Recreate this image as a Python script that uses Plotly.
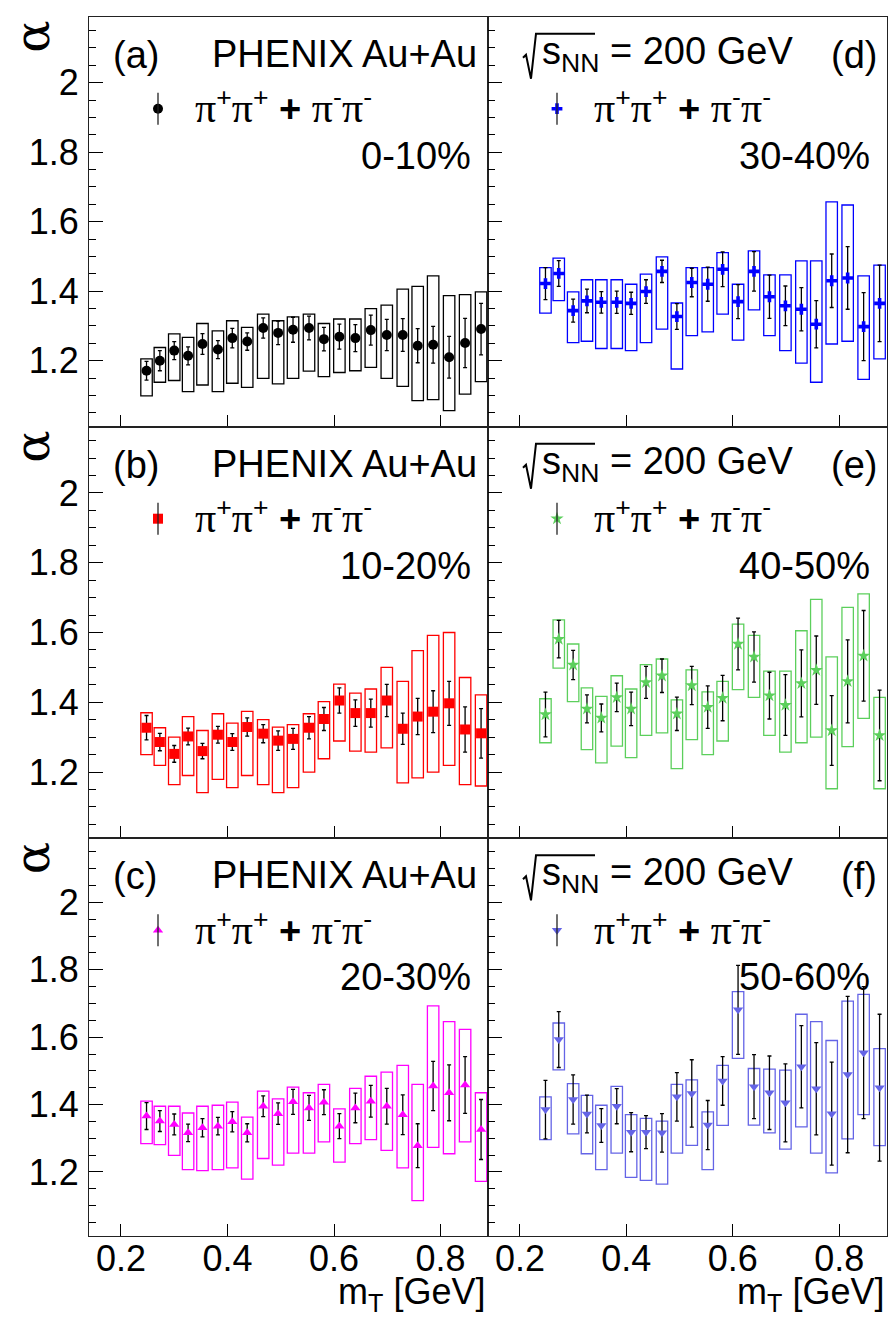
import numpy as np
import plotly.graph_objects as go

# ---------------- data ----------------
mt = [0.248, 0.273, 0.300, 0.326, 0.353, 0.382, 0.409, 0.437, 0.467, 0.495, 0.523, 0.553,
      0.581, 0.610, 0.640, 0.669, 0.699, 0.729, 0.757, 0.786, 0.816, 0.846, 0.876]

# 0-10%
alpha_a = [1.171, 1.200, 1.229, 1.214, 1.248, 1.232, 1.265, 1.255, 1.294, 1.280, 1.289, 1.294,
           1.262, 1.269, 1.265, 1.288, 1.274, 1.274, 1.243, 1.246, 1.210, 1.251, 1.291]
stat_a = [0.027, 0.029, 0.026, 0.026, 0.030, 0.026, 0.028, 0.025, 0.029, 0.034, 0.036, 0.034,
          0.034, 0.036, 0.039, 0.043, 0.045, 0.047, 0.049, 0.053, 0.060, 0.071, 0.074]
sys_hi_a = [1.205, 1.238, 1.277, 1.267, 1.307, 1.286, 1.315, 1.296, 1.334, 1.315, 1.326, 1.334,
            1.307, 1.320, 1.320, 1.350, 1.360, 1.406, 1.414, 1.444, 1.387, 1.390, 1.398]
sys_lo_a = [1.099, 1.138, 1.143, 1.111, 1.130, 1.111, 1.135, 1.123, 1.149, 1.133, 1.149, 1.170,
            1.154, 1.166, 1.171, 1.181, 1.149, 1.126, 1.085, 1.088, 1.056, 1.104, 1.140]

# 10-20%
alpha_b = [1.327, 1.286, 1.252, 1.302, 1.260, 1.307, 1.286, 1.329, 1.310, 1.290, 1.295, 1.327,
           1.352, 1.405, 1.369, 1.369, 1.405, 1.324, 1.359, 1.373, 1.397, 1.322, 1.311]
stat_b = [0.035, 0.025, 0.024, 0.024, 0.022, 0.024, 0.024, 0.026, 0.026, 0.028, 0.030, 0.032,
          0.033, 0.036, 0.038, 0.040, 0.046, 0.045, 0.052, 0.060, 0.063, 0.065, 0.071]
sys_hi_b = [1.370, 1.327, 1.300, 1.359, 1.319, 1.367, 1.340, 1.374, 1.350, 1.329, 1.336, 1.367,
            1.402, 1.452, 1.426, 1.438, 1.500, 1.460, 1.548, 1.592, 1.600, 1.471, 1.421]
sys_lo_b = [1.250, 1.219, 1.164, 1.190, 1.141, 1.179, 1.155, 1.190, 1.164, 1.141, 1.155, 1.200,
            1.238, 1.289, 1.260, 1.257, 1.269, 1.169, 1.183, 1.200, 1.219, 1.164, 1.160]

# 20-30%
alpha_c = [1.366, 1.351, 1.341, 1.316, 1.331, 1.336, 1.349, 1.316, 1.395, 1.373, 1.408, 1.390,
           1.407, 1.336, 1.390, 1.410, 1.395, 1.370, 1.278, 1.455, 1.435, 1.458, 1.326]
stat_c = [0.040, 0.031, 0.031, 0.026, 0.027, 0.026, 0.030, 0.027, 0.031, 0.032, 0.037, 0.037,
          0.037, 0.037, 0.044, 0.047, 0.053, 0.059, 0.065, 0.073, 0.083, 0.084, 0.089]
sys_hi_c = [1.410, 1.395, 1.395, 1.375, 1.395, 1.398, 1.407, 1.363, 1.440, 1.417, 1.452, 1.435,
            1.460, 1.387, 1.448, 1.484, 1.496, 1.516, 1.460, 1.693, 1.646, 1.623, 1.435]
sys_lo_c = [1.284, 1.281, 1.249, 1.207, 1.204, 1.207, 1.212, 1.179, 1.240, 1.220, 1.256, 1.256,
            1.289, 1.229, 1.284, 1.296, 1.264, 1.212, 1.115, 1.273, 1.254, 1.289, 1.172]

# 30-40%
alpha_d = [1.422, 1.451, 1.344, 1.372, 1.368, 1.368, 1.365, 1.399, 1.457, 1.327, 1.425, 1.420,
           1.463, 1.370, 1.457, 1.384, 1.358, 1.348, 1.305, 1.430, 1.438, 1.298, 1.365]
stat_d = [0.046, 0.037, 0.033, 0.034, 0.031, 0.032, 0.032, 0.034, 0.032, 0.037, 0.041, 0.049,
          0.050, 0.049, 0.057, 0.062, 0.057, 0.062, 0.068, 0.077, 0.090, 0.098, 0.110]
sys_hi_d = [1.468, 1.495, 1.398, 1.433, 1.433, 1.433, 1.420, 1.449, 1.499, 1.366, 1.468, 1.468,
            1.511, 1.420, 1.516, 1.447, 1.447, 1.487, 1.487, 1.657, 1.648, 1.444, 1.475]
sys_lo_d = [1.337, 1.373, 1.252, 1.256, 1.235, 1.235, 1.229, 1.252, 1.291, 1.176, 1.272, 1.283,
            1.334, 1.259, 1.346, 1.272, 1.229, 1.193, 1.138, 1.248, 1.256, 1.146, 1.205]

# 40-50%
alpha_e = [1.365, 1.581, 1.507, 1.381, 1.355, 1.414, 1.381, 1.457, 1.476, 1.367, 1.448, 1.386,
           1.412, 1.567, 1.530, 1.419, 1.392, 1.454, 1.492, 1.319, 1.460, 1.533, 1.305]
stat_e = [0.064, 0.054, 0.042, 0.040, 0.040, 0.041, 0.048, 0.046, 0.048, 0.048, 0.055, 0.061,
          0.065, 0.074, 0.072, 0.067, 0.087, 0.096, 0.098, 0.100, 0.119, 0.130, 0.130]
sys_hi_e = [1.410, 1.636, 1.567, 1.441, 1.417, 1.476, 1.438, 1.508, 1.524, 1.407, 1.493, 1.430,
            1.460, 1.624, 1.592, 1.489, 1.489, 1.605, 1.695, 1.530, 1.672, 1.711, 1.414]
sys_lo_e = [1.284, 1.498, 1.402, 1.264, 1.226, 1.274, 1.241, 1.305, 1.312, 1.210, 1.293, 1.250,
            1.289, 1.436, 1.414, 1.305, 1.257, 1.284, 1.300, 1.152, 1.273, 1.354, 1.152]

# 50-60%
alpha_f = [1.385, 1.593, 1.415, 1.372, 1.338, 1.395, 1.318, 1.318, 1.316, 1.423, 1.433, 1.339,
           1.470, 1.681, 1.453, 1.435, 1.405, 1.512, 1.447, 1.373, 1.489, 1.554, 1.450]
stat_f = [0.087, 0.083, 0.073, 0.056, 0.050, 0.052, 0.058, 0.049, 0.057, 0.072, 0.100, 0.073,
          0.072, 0.132, 0.095, 0.109, 0.116, 0.122, 0.137, 0.153, 0.232, 0.196, 0.218]
sys_hi_f = [1.423, 1.642, 1.462, 1.427, 1.398, 1.454, 1.370, 1.359, 1.351, 1.460, 1.473, 1.378,
            1.516, 1.735, 1.507, 1.505, 1.502, 1.668, 1.646, 1.590, 1.707, 1.727, 1.566]
sys_lo_f = [1.296, 1.503, 1.313, 1.254, 1.207, 1.256, 1.184, 1.175, 1.164, 1.256, 1.279, 1.207,
            1.338, 1.537, 1.339, 1.316, 1.268, 1.334, 1.256, 1.197, 1.298, 1.370, 1.278]

x_ticks = [0.2, 0.4, 0.6, 0.8]
x_ticktext = ["0.2", "0.4", "0.6", "0.8"]
y_ticks = [1.2, 1.4, 1.6, 1.8, 2.0]
y_ticktext = ["1.2", "1.4", "1.6", "1.8", "2"]

X_RANGE = [0.14, 0.889]
Y_RANGE = [1.01, 2.19]

# ---------------- layout geometry (pixels) ----------------
W, H = 891, 1317
COLS = [(89, 488), (488, 886.5)]
ROWS = [(16.7, 426.7), (426.7, 838.3), (838.3, 1236)]
SANS = "Liberation Sans, Arial, sans-serif"
SERIF = "Liberation Serif, Times New Roman, serif"
FS = 38       # panel texts
FS_TICK = 36  # tick labels
FRAME = "#222222"


def fx(p):
    return p / W


def fy(p):
    return 1 - p / H


# (label, centrality, alpha, stat, sys_hi, sys_lo, symbol, size, color, row, col)
panels = [
    ("(a)", "0-10%", alpha_a, stat_a, sys_hi_a, sys_lo_a, "circle", 10, "#000000", 0, 0),
    ("(d)", "30-40%", alpha_d, stat_d, sys_hi_d, sys_lo_d, "cross", 9, "#0000ff", 0, 1),
    ("(b)", "10-20%", alpha_b, stat_b, sys_hi_b, sys_lo_b, "square", 10, "#ff0000", 1, 0),
    ("(e)", "40-50%", alpha_e, stat_e, sys_hi_e, sys_lo_e, "star", 10, "#5ccf5c", 1, 1),
    ("(c)", "20-30%", alpha_c, stat_c, sys_hi_c, sys_lo_c, "triangle-up", 9, "#ff00ff", 2, 0),
    ("(f)", "50-60%", alpha_f, stat_f, sys_hi_f, sys_lo_f, "triangle-down", 9, "#6464e6", 2, 1),
]

fig = go.Figure()
annotations = []
shapes = []
layout_axes = {}

y_minor = [round(v, 2) for v in np.arange(1.05, 2.19, 0.05)
           if round(v, 2) not in [round(t, 2) for t in y_ticks]]

PI = "<span style='font-family:Liberation Serif;font-size:42px'>π</span>"
legend_text = f"{PI}<sup>+</sup>{PI}<sup>+</sup> <b>+</b> {PI}<sup>-</sup>{PI}<sup>-</sup>"

for k, (lab, cent, alpha, stat, shi, slo, sym, msize, color, r, c) in enumerate(panels, start=1):
    xn = "x" if k == 1 else f"x{k}"
    yn = "y" if k == 1 else f"y{k}"
    x0p, x1p = COLS[c]
    y0p, y1p = ROWS[r]
    ph = y1p - y0p
    pw = x1p - x0p

    # systematic boxes
    fig.add_trace(go.Bar(
        x=mt, y=[h - l for h, l in zip(shi, slo)], base=slo, width=0.0215,
        marker=dict(color="rgba(0,0,0,0)", line=dict(color=color, width=1.3)),
        xaxis=xn, yaxis=yn, showlegend=False, hoverinfo="skip"))
    # points with statistical errors
    fig.add_trace(go.Scatter(
        x=mt, y=alpha, mode="markers",
        marker=dict(symbol=sym, size=msize, color=color, line=dict(width=0)),
        error_y=dict(type="data", array=stat, color="black", thickness=1.3, width=2),
        xaxis=xn, yaxis=yn, showlegend=False))

    # legend key: marker with a vertical bar
    lx = X_RANGE[0] + 69 / pw * (X_RANGE[1] - X_RANGE[0])
    ly = Y_RANGE[1] - 92 / ph * (Y_RANGE[1] - Y_RANGE[0])
    shapes.append(dict(type="line", xref="paper", yref="paper",
                       x0=fx(x0p + 69), x1=fx(x0p + 69),
                       y0=fy(y0p + 92 - 16), y1=fy(y0p + 92 + 16),
                       line=dict(color="#222222", width=1.3)))
    fig.add_trace(go.Scatter(
        x=[lx], y=[ly], mode="markers",
        marker=dict(symbol=sym, size=msize, color=color, line=dict(width=0)),
        xaxis=xn, yaxis=yn, showlegend=False, hoverinfo="skip"))
    annotations.append(dict(text=legend_text, x=fx(x0p + 104), y=fy(y0p + 90),
                            xref="paper", yref="paper", xanchor="left", yanchor="middle",
                            showarrow=False, font=dict(family=SANS, size=FS, color="black")))

    # centrality label
    annotations.append(dict(text=cent, x=fx(x1p - 15), y=fy(y0p + 139),
                            xref="paper", yref="paper", xanchor="right", yanchor="middle",
                            showarrow=False, font=dict(family=SANS, size=FS, color="black")))

    if c == 0:
        annotations.append(dict(text=lab, x=fx(x0p + 22), y=fy(y0p + 38),
                                xref="paper", yref="paper", xanchor="left", yanchor="middle",
                                showarrow=False, font=dict(family=SANS, size=FS, color="black")))
        annotations.append(dict(text="PHENIX Au+Au", x=fx(x1p - 9), y=fy(y0p + 37),
                                xref="paper", yref="paper", xanchor="right", yanchor="middle",
                                showarrow=False, font=dict(family=SANS, size=FS, color="black")))
        # rotated axis title
        annotations.append(dict(text="α", x=fx(32), y=fy(y0p + 20),
                                xref="paper", yref="paper", xanchor="center", yanchor="middle",
                                textangle=-90, showarrow=False,
                                font=dict(family="DejaVu Serif", size=48, color="black")))
    else:
        annotations.append(dict(text=lab, x=fx(x1p - 8), y=fy(y0p + 38),
                                xref="paper", yref="paper", xanchor="right", yanchor="middle",
                                showarrow=False, font=dict(family=SANS, size=FS, color="black")))
        annotations.append(dict(text="s<sub>NN</sub> = 200 GeV", x=fx(x0p + 52), y=fy(y0p + 37),
                                xref="paper", yref="paper", xanchor="left", yanchor="middle",
                                showarrow=False, font=dict(family=SANS, size=FS, color="black")))
        # square-root sign with overbar
        rx = x0p + 35
        ry = y0p
        path = (f"M {fx(rx)},{fy(ry + 41)} L {fx(rx + 3)},{fy(ry + 38)} "
                f"L {fx(rx + 8)},{fy(ry + 62)} L {fx(rx + 13)},{fy(ry + 17)} "
                f"L {fx(rx + 72)},{fy(ry + 17)}")
        shapes.append(dict(type="path", xref="paper", yref="paper", path=path,
                           line=dict(color="black", width=2)))

    if r == 2:
        annotations.append(dict(text="m<sub>T</sub> [GeV]", x=fx(x1p - 1), y=fy(1294),
                                xref="paper", yref="paper", xanchor="right", yanchor="middle",
                                showarrow=False, font=dict(family=SANS, size=FS_TICK, color="black")))

    axis_font = dict(family=SANS, size=FS_TICK, color="black")
    layout_axes["xaxis" if k == 1 else f"xaxis{k}"] = dict(
        domain=[fx(x0p), fx(x1p)], range=X_RANGE, anchor=yn,
        showline=True, mirror=True, linecolor=FRAME, linewidth=1.2,
        ticks="inside", ticklen=12, tickwidth=1.3, tickcolor="black",
        tickmode="array", tickvals=x_ticks, ticktext=x_ticktext,
        showticklabels=(r == 2), tickfont=axis_font, ticklabelstandoff=-9,
        showgrid=False, zeroline=False, fixedrange=True)
    layout_axes["yaxis" if k == 1 else f"yaxis{k}"] = dict(
        domain=[fy(y1p), fy(y0p)], range=Y_RANGE, anchor=xn,
        showline=True, mirror=True, linecolor=FRAME, linewidth=1.2,
        ticks="inside", ticklen=14, tickwidth=1.3, tickcolor="black",
        tickmode="array", tickvals=y_ticks, ticktext=y_ticktext,
        minor=dict(ticks="inside", ticklen=7, tickwidth=1.3, tickcolor="black",
                   tickmode="array", tickvals=y_minor),
        showticklabels=(c == 0), tickfont=axis_font, ticklabelstandoff=2,
        showgrid=False, zeroline=False, fixedrange=True)

fig.update_layout(
    width=W, height=H, margin=dict(l=0, r=0, t=0, b=0),
    paper_bgcolor="white", plot_bgcolor="white",
    barmode="overlay", showlegend=False,
    annotations=annotations, shapes=shapes,
    **layout_axes)

fig.write_html("out.html")
